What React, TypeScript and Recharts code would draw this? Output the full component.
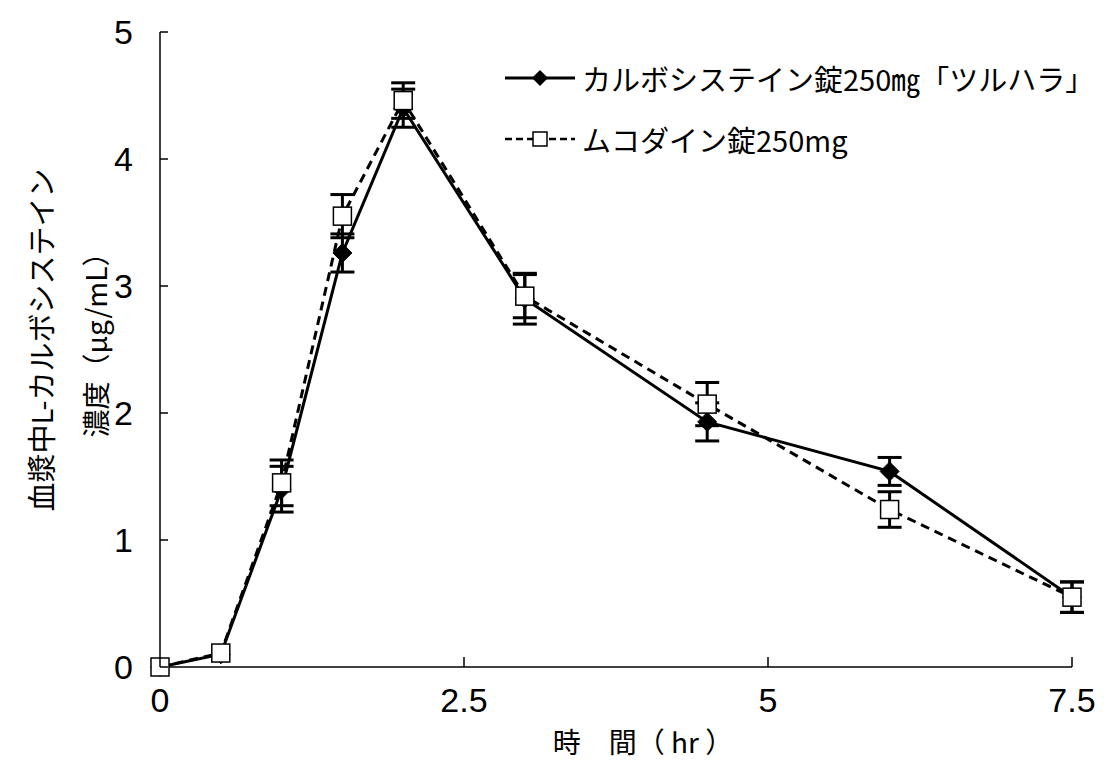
import React from 'react';
import { LineChart, Line, XAxis, YAxis, ErrorBar, Legend, Customized } from 'recharts';

const times = [0, 0.5, 1, 1.5, 2, 3, 4.5, 6, 7.5];
const carboMean = [0, 0.1, 1.4, 3.26, 4.4, 2.9, 1.93, 1.54, 0.55];
const carboSd = [0, 0, 0.18, 0.15, 0.15, 0.2, 0.15, 0.11, 0.12];
const mucoMean = [0, 0.11, 1.45, 3.55, 4.46, 2.92, 2.07, 1.24, 0.55];
const mucoSd = [0, 0, 0.18, 0.17, 0.14, 0.17, 0.17, 0.14, 0.12];
const xTicks = [0, 2.5, 5, 7.5];
const yTicks = [0, 1, 2, 3, 4, 5];
const seriesNames = ['カルボシステイン錠250㎎「ツルハラ」', 'ムコダイン錠250mg'];
const xLabel = '時　間（ hr ）';
const yLabelLines = ['血漿中L-カルボシステイン', '濃度（μg/mL）'];

const data = times.map((t, i) => ({
  t,
  carbo: carboMean[i],
  carboSd: carboSd[i],
  muco: mucoMean[i],
  mucoSd: mucoSd[i],
}));

const JP = "'Noto Sans CJK JP', 'Noto Sans', sans-serif";
const NUM = "'Liberation Sans', 'Noto Sans CJK JP', sans-serif";

const DiamondDot = (props: any) => {
  const { cx, cy, index } = props;
  if (cx == null || cy == null) return null;
  const r = 9.5;
  return (
    <path
      key={`d-${index}`}
      d={`M${cx},${cy - r} L${cx + r},${cy} L${cx},${cy + r} L${cx - r},${cy} Z`}
      fill="#000"
      stroke="#000"
    />
  );
};

const SquareDot = (props: any) => {
  const { cx, cy, index } = props;
  if (cx == null || cy == null) return null;
  const s = 18;
  return (
    <rect
      key={`s-${index}`}
      x={cx - s / 2}
      y={cy - s / 2}
      width={s}
      height={s}
      fill="#fff"
      stroke="#000"
      strokeWidth={1.5}
    />
  );
};

const YTick = (props: any) => {
  const { x, y, payload } = props;
  return (
    <g>
      <line x1={x} y1={y} x2={x + 8} y2={y} stroke="#000" strokeWidth={1.5} />
      <text x={x - 27} y={y + 12} textAnchor="end" fontSize={34} fontFamily={NUM} fill="#000">
        {payload.value}
      </text>
    </g>
  );
};

const XTick = (props: any) => {
  const { x, y, payload } = props;
  return (
    <g>
      <line x1={x} y1={y} x2={x} y2={y - 10} stroke="#000" strokeWidth={1.5} />
      <text x={x} y={y + 45} textAnchor="middle" fontSize={34} fontFamily={NUM} fill="#000">
        {payload.value}
      </text>
    </g>
  );
};

const LegendContent = () => (
  <div style={{ fontFamily: JP, color: '#000' }}>
    <div style={{ display: 'flex', alignItems: 'center', height: 61 }}>
      <svg width={74} height={30}>
        <line x1={2} y1={15} x2={72} y2={15} stroke="#000" strokeWidth={3} />
        <path d="M37,7 L45,15 L37,23 L29,15 Z" fill="#000" />
      </svg>
      <span style={{ fontSize: 29, marginLeft: 5, whiteSpace: 'nowrap' }}>{seriesNames[0]}</span>
    </div>
    <div style={{ display: 'flex', alignItems: 'center', height: 61 }}>
      <svg width={74} height={30}>
        <line x1={2} y1={15} x2={72} y2={15} stroke="#000" strokeWidth={2.5} strokeDasharray="7 4" />
        <rect x={30} y={8} width={14} height={14} fill="#fff" stroke="#000" strokeWidth={1.5} />
      </svg>
      <span style={{ fontSize: 29, marginLeft: 5, whiteSpace: 'nowrap' }}>{seriesNames[1]}</span>
    </div>
  </div>
);

const AxisTitles = () => (
  <g fontFamily={JP} fill="#000">
    <text x={643} y={753} textAnchor="middle" fontSize={28}>
      {xLabel}
    </text>
    <text x={40} y={340} textAnchor="middle" fontSize={29} transform="rotate(-90 40 340)" dominantBaseline="central">
      {yLabelLines[0]}
    </text>
    <text x={95} y={338} textAnchor="middle" fontSize={28} transform="rotate(-90 95 338)" dominantBaseline="central">
      {yLabelLines[1]}
    </text>
  </g>
);

export default function App() {
  return (
    <div style={{ position: 'absolute', left: 0, top: 0, background: '#fff' }}>
      <LineChart
        width={1112}
        height={773}
        data={data}
        margin={{ top: 32, right: 40, bottom: 36, left: 100 }}
      >
        <XAxis
          dataKey="t"
          type="number"
          domain={[0, 7.5]}
          ticks={xTicks}
          height={70}
          tickSize={0}
          tickMargin={0}
          tickLine={false}
          tick={<XTick />}
          axisLine={{ stroke: '#000', strokeWidth: 1.5 }}
          interval={0}
        />
        <YAxis
          type="number"
          domain={[0, 5]}
          ticks={yTicks}
          width={60}
          tickSize={0}
          tickMargin={0}
          tickLine={false}
          tick={<YTick />}
          axisLine={{ stroke: '#000', strokeWidth: 1.5 }}
          interval={0}
        />
        <Legend
          layout="horizontal"
          verticalAlign="middle"
          align="center"
          content={<LegendContent />}
          wrapperStyle={{ left: 503, top: 47, width: 'auto', height: 'auto' }}
        />
        <Line
          name={seriesNames[0]}
          dataKey="carbo"
          stroke="#000"
          strokeWidth={3}
          dot={DiamondDot}
          activeDot={false}
          isAnimationActive={false}
        >
          <ErrorBar dataKey="carboSd" width={12} strokeWidth={3} stroke="#000" direction="y" />
        </Line>
        <Line
          name={seriesNames[1]}
          dataKey="muco"
          stroke="#000"
          strokeWidth={3}
          strokeDasharray="9 6"
          dot={SquareDot}
          activeDot={false}
          isAnimationActive={false}
        >
          <ErrorBar dataKey="mucoSd" width={12} strokeWidth={3} stroke="#000" direction="y" />
        </Line>
        <Customized component={AxisTitles} />
      </LineChart>
    </div>
  );
}
